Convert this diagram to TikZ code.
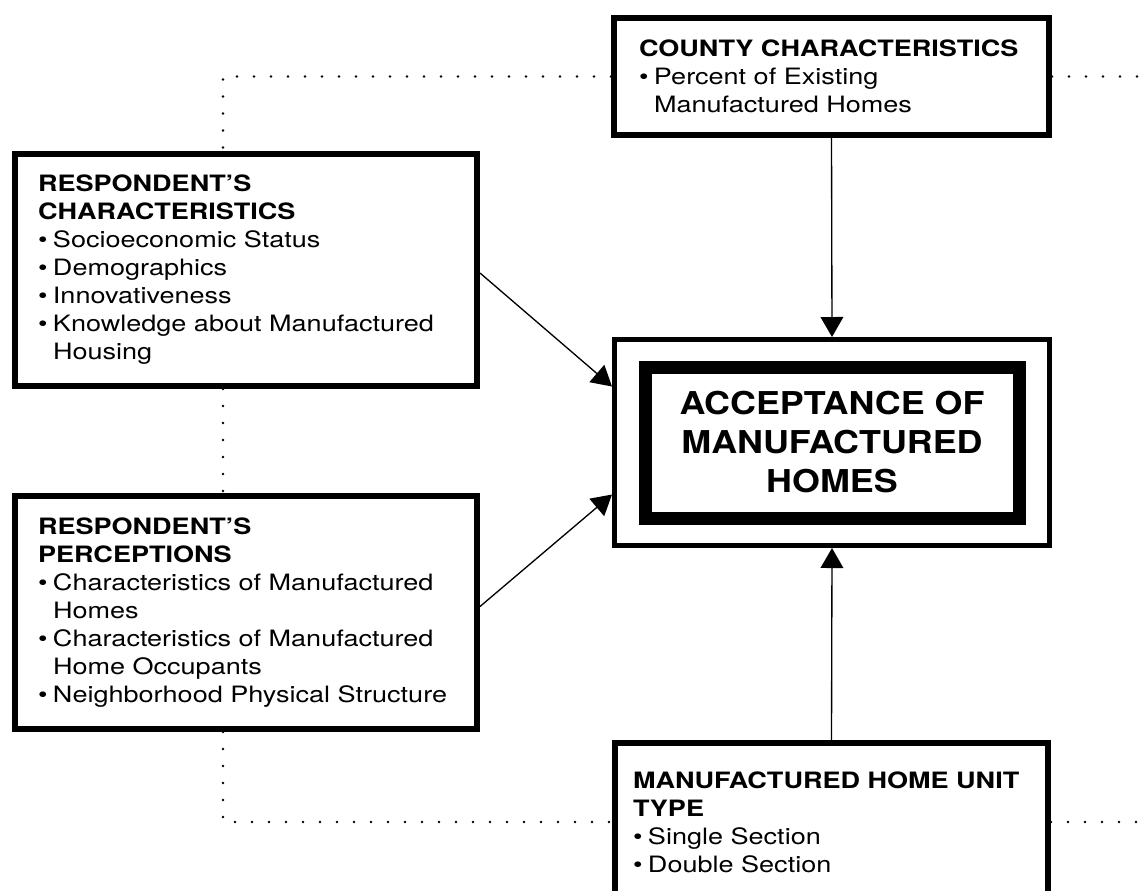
\documentclass[tikz,border=0pt]{standalone}
\usepackage{fontspec}
\setmainfont{TeX Gyre Heros}[FakeStretch=1.2]
\newfontfamily\acceptfont{TeX Gyre Heros}[FakeStretch=1.14]
\usetikzlibrary{arrows.meta,calc}

\newcommand{\bul}{\makebox[11.25pt][l]{\textbullet}}
\newcommand{\ind}{\hspace*{11.25pt}}

\tikzset{
  factorbox/.style={draw, line width=4.5pt, anchor=north west, align=left, inner ysep=0pt,
    font=\fontsize{16.9}{21}\selectfont},
  dotline/.style={line width=2.1pt, line cap=round, dash pattern=on 0pt off 12.75pt},
  flowarrow/.style={line width=1pt, -{Triangle[length=15pt,width=17pt]}}
}

\begin{document}
\begin{tikzpicture}[x=0.75pt,y=0.75pt,yscale=-1,xscale=1]
\useasboundingbox (0,0) rectangle (1141,890);
\clip (0,0) rectangle (1141,890);

% Boxes
\node[factorbox, minimum width=326.25pt, minimum height=87.75pt, inner xsep=18.75pt, text width=288.75pt] (county) at (611,15)
  {\textbf{COUNTY CHARACTERISTICS}\\\bul Percent of Existing\\\ind Manufactured Homes};
\node[factorbox, minimum width=346.5pt, minimum height=174pt, inner xsep=17.25pt, text width=312pt] (char) at (12,151)
  {\textbf{RESPONDENT’S}\\\textbf{CHARACTERISTICS}\\\bul Socioeconomic Status\\\bul Demographics\\\bul Innovativeness\\\bul Knowledge about Manufactured\\\ind Housing};
\node[factorbox, minimum width=346.5pt, minimum height=174.75pt, inner xsep=17.25pt, text width=312pt] (perc) at (12,493)
  {\textbf{RESPONDENT’S}\\\textbf{PERCEPTIONS}\\\bul Characteristics of Manufactured\\\ind Homes\\\bul Characteristics of Manufactured\\\ind Home Occupants\\\bul Neighborhood Physical Structure};
\node[factorbox, minimum width=324.75pt, minimum height=118.5pt, inner xsep=13.5pt, text width=297.75pt] (unit) at (612,740)
  {\textbf{MANUFACTURED HOME UNIT}\\\textbf{TYPE}\\\bul Single Section\\\bul Double Section};

% Central box
\node[draw, line width=3.75pt, minimum width=326.25pt, minimum height=154.5pt] (accept) at (832,442.5) {};
\node[draw, line width=9.75pt, minimum width=280.5pt, minimum height=113.25pt, align=center,
  font=\acceptfont\bfseries\fontsize{23.6}{29.25}\selectfont] (acceptin) at (accept.center)
  {ACCEPTANCE OF\\MANUFACTURED\\HOMES};

% Dotted frame
\coordinate (tl) at (223,76.5);
\coordinate (tr) at (1141,76.5);
\coordinate (bl) at (tl |- unit.west);
\coordinate (br) at (tr |- unit.east);
\draw[dotline] (county.west) -- (tl) -- (tl |- char.north);
\draw[dotline] (tl |- char.south) -- (tl |- perc.north);
\draw[dotline] (tl |- perc.south) -- (bl) -- (unit.west);
\draw[dotline] (county.east) -- (tr);
\draw[dotline] (unit.east) -- (br);

% Arrows
\draw[flowarrow] ($(char.east)+(0,3)$) -- ($(accept.west)+(0,-56)$);
\draw[flowarrow] ($(perc.east)+(0,-6)$) -- ($(accept.west)+(0,52)$);
\draw[flowarrow] (county.south) -- (accept.north);
\draw[flowarrow] (unit.north) -- (accept.south);

\end{tikzpicture}
\end{document}
